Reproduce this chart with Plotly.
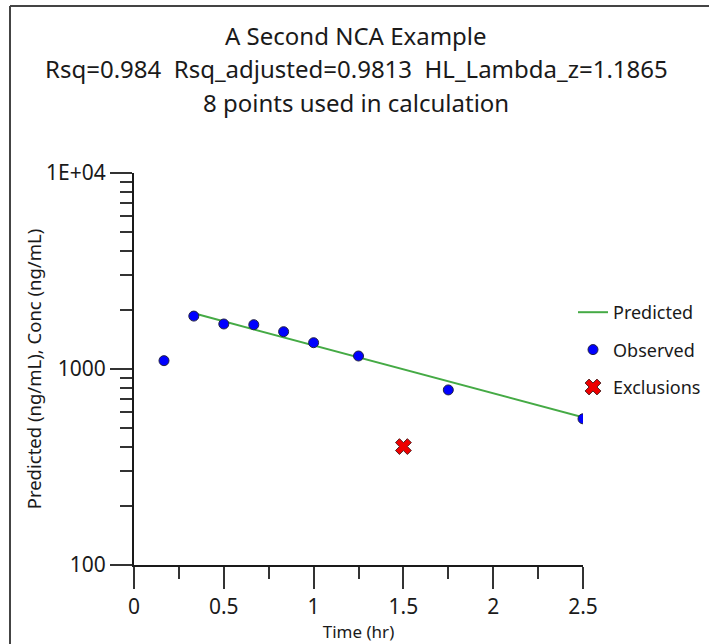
import plotly.graph_objects as go

# ---- data ----
obs_time = [0.167, 0.333, 0.5, 0.667, 0.833, 1.0, 1.25, 1.75, 2.5]
obs_conc = [1103, 1862, 1697, 1683, 1550, 1362, 1165, 782, 557]
excl_time = [1.5]
excl_conc = [402]
pred_time = [0.333, 2.5]
pred_conc = [1923, 567]

x_tickvals = [0, 0.5, 1, 1.5, 2, 2.5]
x_ticktext = ["0", "0.5", "1", "1.5", "2", "2.5"]
x_minor = [0.25, 0.75, 1.25, 1.75, 2.25]
y_tickvals = [100, 1000, 10000]
y_ticktext = ["100", "1000", "1E+04"]
y_minor = [200, 300, 400, 500, 600, 700, 800, 900,
           2000, 3000, 4000, 5000, 6000, 7000, 8000, 9000]

title_lines = ["A Second NCA Example",
               "Rsq=0.984  Rsq_adjusted=0.9813  HL_Lambda_z=1.1865",
               "8 points used in calculation"]

# ---- layout geometry ----
W, H = 709, 644
L, R, T, B = 134, 126, 173, 79
pw, ph = W - L - R, H - T - B

FONT = "Noto Sans"
TXT = "#1a1a1a"

fig = go.Figure()
fig.add_trace(go.Scatter(
    x=pred_time, y=pred_conc, mode="lines", name="Predicted",
    line=dict(color="#45aa45", width=2), legendgroup="a"))
fig.add_trace(go.Scatter(
    x=obs_time, y=obs_conc, mode="markers", name="Observed",
    marker=dict(color="#0000ff", size=10, line=dict(color="#222244", width=1)),
    legendgroup="b"))
fig.add_trace(go.Scatter(
    x=excl_time, y=excl_conc, mode="markers", name="Exclusions",
    marker=dict(color="#ee0000", symbol="x", size=14, line=dict(color="#552222", width=1)),
    legendgroup="c"))


def px_x(p):
    return (p - L) / pw


def px_y(p):
    return (H - B - p) / ph


shapes = [
    dict(type="line", xref="paper", yref="paper", x0=px_x(10), x1=px_x(W + 5),
         y0=px_y(6), y1=px_y(6), line=dict(color="#444444", width=2)),
    dict(type="line", xref="paper", yref="paper", x0=px_x(10), x1=px_x(10),
         y0=px_y(6), y1=px_y(H + 5), line=dict(color="#444444", width=2)),
]

annotations = []
for i, t in enumerate(title_lines):
    annotations.append(dict(
        text=t, xref="paper", yref="paper", x=px_x(356), y=px_y(35 + 34 * i),
        xanchor="center", yanchor="middle", showarrow=False,
        font=dict(family=FONT, size=24, color=TXT)))

fig.update_layout(
    width=W, height=H,
    margin=dict(l=L, r=R, t=T, b=B, pad=0, autoexpand=False),
    paper_bgcolor="white", plot_bgcolor="white",
    font=dict(family=FONT, color=TXT),
    shapes=shapes, annotations=annotations,
    showlegend=True,
    legend=dict(x=px_x(573), y=px_y(294), xanchor="left", yanchor="top",
                font=dict(family=FONT, size=18, color=TXT),
                tracegroupgap=11, bgcolor="rgba(0,0,0,0)"),
    xaxis=dict(range=[0, 2.5], tickmode="array", tickvals=x_tickvals, ticktext=x_ticktext,
               showgrid=False, zeroline=False, showline=True, linecolor=TXT, linewidth=2,
               ticks="outside", ticklen=22, tickwidth=2, tickcolor="#333333",
               tickfont=dict(size=21), automargin=False,
               minor=dict(tickmode="array", tickvals=x_minor,
                          ticks="outside", ticklen=12, tickwidth=2, tickcolor="#333333"),
               title=dict(text="Time (hr)", font=dict(size=17), standoff=2)),
    yaxis=dict(type="log", range=[2, 4], tickmode="array", tickvals=y_tickvals, ticktext=y_ticktext,
               showgrid=False, zeroline=False, showline=True, linecolor=TXT, linewidth=2,
               ticks="outside", ticklen=22, tickwidth=2, tickcolor="#333333",
               tickfont=dict(size=21), automargin=False,
               minor=dict(tickmode="array", tickvals=y_minor,
                          ticks="outside", ticklen=12, tickwidth=2, tickcolor="#333333"),
               title=dict(text="Predicted (ng/mL), Conc (ng/mL)", font=dict(size=18.5), standoff=0)),
)

fig.write_html("out.html", config={"displayModeBar": False},
               post_script="document.body.style.margin='0px';")
